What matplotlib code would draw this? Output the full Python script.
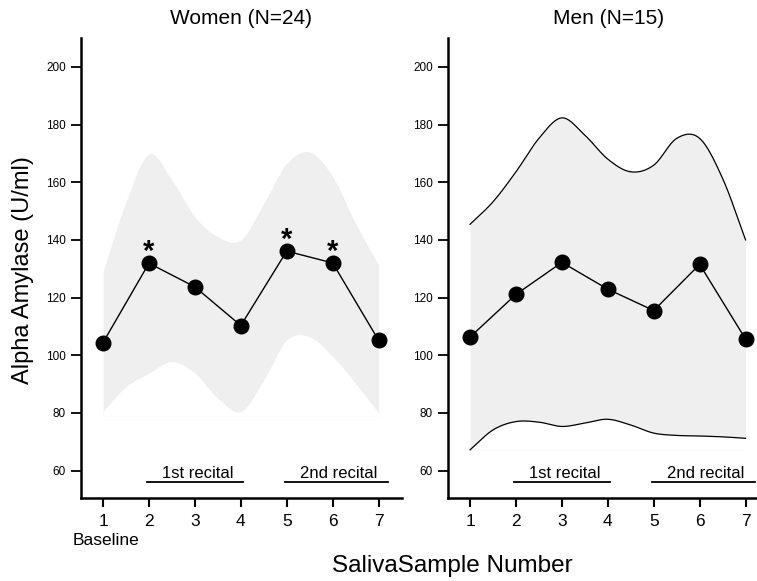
import numpy as np
import matplotlib
matplotlib.use("Agg")
import matplotlib.pyplot as plt

# ---------------- data ----------------
samples = [1, 2, 3, 4, 5, 6, 7]
women_mean = [104.4, 131.9, 123.7, 110.3, 136.1, 132.0, 105.2]
men_mean = [106.3, 121.1, 132.2, 122.9, 115.5, 131.5, 105.6]

# confidence band read at half-sample steps
band_x = [1, 1.5, 2, 2.5, 3, 3.5, 4, 4.5, 5, 5.5, 6, 6.5, 7]
women_upper = [129.0, 153.2, 169.8, 160.7, 148.0, 141.1, 140.0, 152.7, 166.5, 170.5, 161.9, 145.7, 131.3]
women_lower = [80.5, 89.1, 93.8, 97.8, 93.8, 85.1, 80.5, 91.4, 105.3, 106.4, 99.5, 90.2, 79.9]
women_floor = 79.0
men_upper = [145.4, 153.2, 163.6, 175.2, 182.3, 176.3, 168.0, 163.6, 165.9, 175.2, 175.2, 161.3, 140.0]
men_lower = [67.2, 74.1, 77.0, 76.8, 75.3, 76.5, 77.8, 75.8, 73.0, 72.2, 72.0, 71.7, 71.2]
men_floor = 67.2

women_sig = [2, 5, 6]
yticks = [60, 80, 100, 120, 140, 160, 180, 200]
titles = ["Women (N=24)", "Men (N=15)"]
recitals = [("1st recital", 1.96, 4.05), ("2nd recital", 4.97, 7.2)]

plt.rcParams['font.family'] = ['Liberation Sans', 'DejaVu Sans']


def smooth(xs, ys, n=20):
    xs = np.asarray(xs, float)
    ys = np.asarray(ys, float)
    p = np.concatenate([[2 * ys[0] - ys[1]], ys, [2 * ys[-1] - ys[-2]]])
    out_x, out_y = [], []
    for i in range(len(xs) - 1):
        t = np.linspace(0, 1, n, endpoint=False)
        p0, p1, p2, p3 = p[i], p[i + 1], p[i + 2], p[i + 3]
        y = 0.5 * ((2 * p1) + (-p0 + p2) * t + (2 * p0 - 5 * p1 + 4 * p2 - p3) * t ** 2
                   + (-p0 + 3 * p1 - 3 * p2 + p3) * t ** 3)
        out_x.append(xs[i] + (xs[i + 1] - xs[i]) * t)
        out_y.append(y)
    out_x.append([xs[-1]])
    out_y.append([ys[-1]])
    return np.concatenate(out_x), np.concatenate(out_y)


W, H = 757, 581
fig = plt.figure(figsize=(W / 100, H / 100), dpi=100)

xlim = (0.52, 7.51)
ylim = (50.5, 210)
ax1 = fig.add_axes([81 / W, 1 - 498 / H, 321 / W, 460 / H])
ax2 = fig.add_axes([448 / W, 1 - 498 / H, 321 / W, 460 / H])

panels = [
    (ax1, women_mean, women_upper, women_lower, women_floor, False),
    (ax2, men_mean, men_upper, men_lower, men_floor, True),
]

band_color = "#efefef"
for k, (ax, mean, up, lo, floor, outline) in enumerate(panels):
    xu, yu = smooth(band_x, up)
    xl, yl = smooth(band_x, lo)
    ax.fill_between(xu, floor, yu, color=band_color, lw=0, zorder=1)
    ax.fill_between(xl, floor, yl, color="white", lw=0, zorder=2)
    if outline:
        ax.plot(xu, yu, color="black", lw=0.9, zorder=3)
        ax.plot(xl, yl, color="black", lw=0.9, zorder=3)
    ax.plot(samples, mean, color="black", lw=1.0, marker="o", ms=10.5,
            markerfacecolor="black", markeredgecolor="black", zorder=5)
    ax.set_xlim(*xlim)
    ax.set_ylim(*ylim)
    for s in ["top", "right"]:
        ax.spines[s].set_visible(False)
    for s in ["left", "bottom"]:
        ax.spines[s].set_linewidth(1.8)
    ax.set_yticks(yticks)
    ax.set_yticklabels([str(v) for v in yticks], fontsize=8.5)
    ax.set_xticks(samples)
    ax.set_xticklabels([str(v) for v in samples], fontsize=12.5)
    ax.tick_params(axis="y", direction="out", length=7, width=1.3, pad=4)
    ax.tick_params(axis="x", direction="out", length=6.5, width=1.5, pad=5)
    ax.set_title(titles[k], fontsize=15, pad=10)
    for label, x0, x1 in recitals:
        ax.plot([x0, x1], [55.9, 55.9], color="black", lw=1.3, clip_on=False, zorder=4)
        ax.text((x0 + x1) / 2 + 0.05, 56.3, label, ha="center", va="bottom",
                fontsize=12)

for x in women_sig:
    yv = women_mean[samples.index(x)]
    ax1.text(x, yv - 1.0, "*", ha="center", va="bottom", fontsize=21, fontweight="bold",
             zorder=6)

ax1.text(1.07, 38.4, "Baseline", ha="center", va="top", fontsize=12.5, clip_on=False)

fig.text(23 / W, 1 - 270 / H, "Alpha Amylase (U/ml)", rotation=90, ha="center", va="center",
         fontsize=17)
fig.text(452 / W, 1 - 566 / H, "SalivaSample Number", ha="center", va="center", fontsize=17.5)

fig.savefig("out.png", dpi=100)
